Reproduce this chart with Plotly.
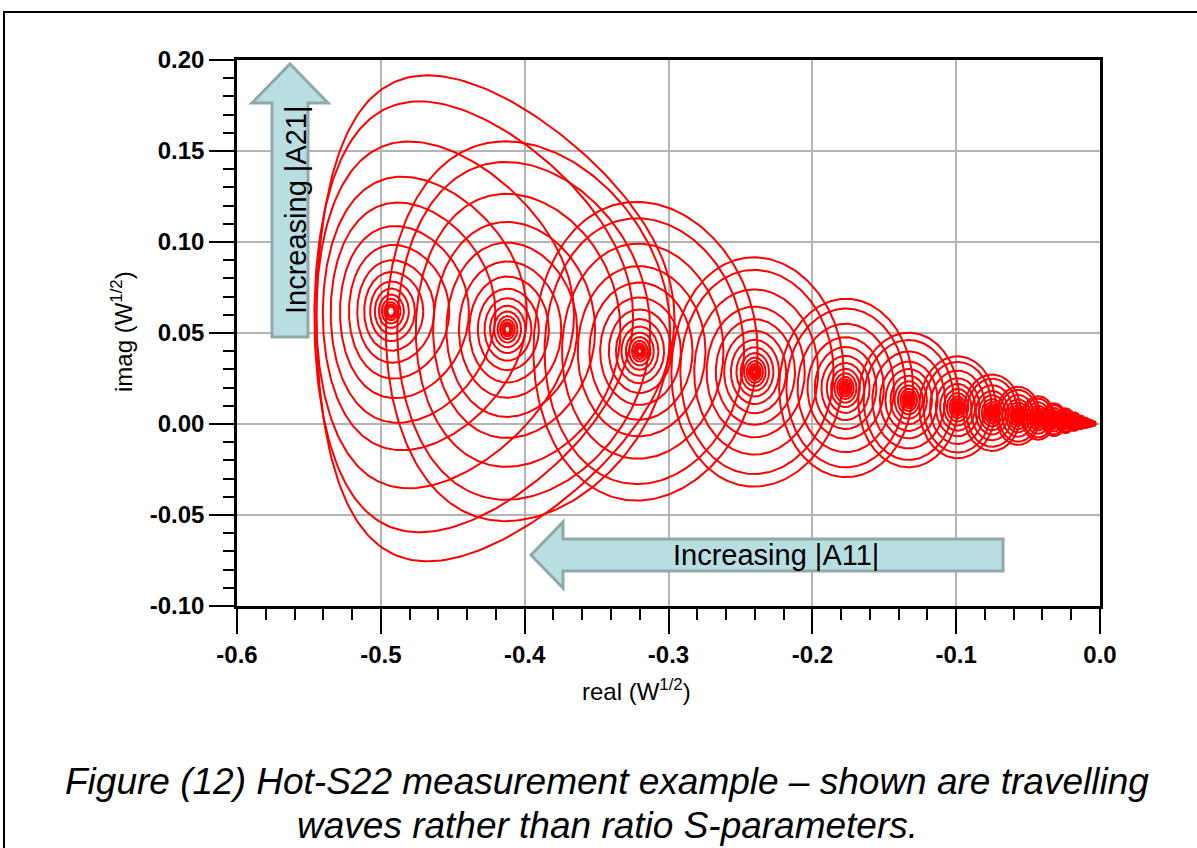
import numpy as np
import plotly.graph_objects as go

# ---- data (W^1/2) ----
# centre of each family of loops (one family per |A11| level)
center_real = [-0.493, -0.412, -0.320, -0.240, -0.177, -0.133, -0.099, -0.075,
               -0.057, -0.043, -0.032, -0.024, -0.018, -0.0135, -0.010, -0.0075,
               -0.0055, -0.0040]
center_imag = [0.062, 0.052, 0.040, 0.0286, 0.0198, 0.0132, 0.0092, 0.0062,
               0.0045, 0.0033, 0.0024, 0.0018, 0.0013, 0.0009, 0.0006, 0.0004,
               0.0003, 0.0002]
# radius of the largest loop in each family
outer_radius = [0.131, 0.104, 0.082, 0.063, 0.049, 0.037, 0.028, 0.021,
                0.016, 0.012, 0.009, 0.0068, 0.0051, 0.0038, 0.0029, 0.0022,
                0.0016, 0.0012]
# relative size of each loop in a family (one loop per |A21| level)
loop_scale = [1.0, 0.89, 0.72, 0.57, 0.46, 0.36, 0.28, 0.215, 0.165, 0.125,
              0.095, 0.07, 0.052, 0.038, 0.028, 0.02]
# compression distortion of the big loops (drift to the right, triangular skew)
drift = [0.46, 0.10, 0.03, 0.02, 0.01, 0.0, 0.0, 0.0, 0.0, 0.0, 0.0, 0.0,
         0.0, 0.0, 0.0, 0.0, 0.0, 0.0]
skew = [0.10, 0.04, 0.02, 0.01, 0.0, 0.0, 0.0, 0.0, 0.0, 0.0, 0.0, 0.0,
        0.0, 0.0, 0.0, 0.0, 0.0, 0.0]
drop = [0.03, 0.01, 0.0, 0.0, 0.0, 0.0, 0.0, 0.0, 0.0, 0.0, 0.0, 0.0,
        0.0, 0.0, 0.0, 0.0, 0.0, 0.0]
aspect = 0.95

x_tickvals = [-0.6, -0.5, -0.4, -0.3, -0.2, -0.1, 0.0]
x_ticktext = ["-0.6", "-0.5", "-0.4", "-0.3", "-0.2", "-0.1", "0.0"]
y_tickvals = [-0.10, -0.05, 0.00, 0.05, 0.10, 0.15, 0.20]
y_ticktext = ["-0.10", "-0.05", "0.00", "0.05", "0.10", "0.15", "0.20"]

fig = go.Figure()
t = np.linspace(0, 2 * np.pi, 241)
for g in range(len(center_real)):
    xs, ys = [], []
    for rel in loop_scale:
        r = outer_radius[g] * rel
        e = skew[g] * rel
        sx = drift[g] * outer_radius[g] * rel ** 2
        sy = -drop[g] * outer_radius[g] * rel ** 2
        x = center_real[g] + sx + aspect * r * (np.cos(t) + e * np.cos(2 * t))
        y = center_imag[g] + sy + r * (np.sin(t) - e * np.sin(2 * t))
        xs += list(x) + [None]
        ys += list(y) + [None]
    fig.add_trace(go.Scatter(x=xs, y=ys, mode="lines",
                             line=dict(color="#ff0000", width=2),
                             hoverinfo="skip", showlegend=False))

W, H = 1197, 848
L, R, T, B = 237, 1100, 60, 606


def px(x, y):
    return (x - L) / (R - L), (B - y) / (B - T)


def path(points):
    s = ""
    for i, (x, y) in enumerate(points):
        a, b = px(x, y)
        s += ("M" if i == 0 else "L") + f"{a:.5f},{b:.5f} "
    return s + "Z"


up_arrow = [(272, 337), (272, 103), (252, 103), (290, 64), (328, 103),
            (308, 103), (308, 337)]
left_arrow = [(1003, 539), (563, 539), (563, 522), (531, 555), (563, 588),
              (563, 571), (1003, 571)]

shapes = [
    dict(type="path", xref="paper", yref="paper", path=path(up_arrow),
         fillcolor="#b8dee2", line=dict(color="#8fa8aa", width=3), layer="above"),
    dict(type="path", xref="paper", yref="paper", path=path(left_arrow),
         fillcolor="#b8dee2", line=dict(color="#8fa8aa", width=3), layer="above"),
]
fx0, fy0 = px(4, 12)
fx1, fy1 = px(1400, 1000)
shapes.append(dict(type="rect", xref="paper", yref="paper", x0=fx0, y0=fy1,
                   x1=fx1, y1=fy0, line=dict(color="black", width=2),
                   fillcolor="rgba(0,0,0,0)", layer="above"))

font = "Liberation Sans, Arial, sans-serif"


def ann(text, x, y, size, angle=0, italic=False):
    a, b = px(x, y)
    return dict(text=text, x=a, y=b, xref="paper", yref="paper",
                showarrow=False, textangle=angle, xanchor="center",
                yanchor="middle",
                font=dict(family=font, size=size, color="black",
                          style="italic" if italic else "normal"))


annotations = [
    ann("Increasing |A21|", 296, 210, 29, angle=-90),
    ann("Increasing |A11|", 776, 555, 29),
    ann("imag (W<sup>1/2</sup>)", 122, 332, 24, angle=-90),
    ann("real (W<sup>1/2</sup>)", 636, 690, 24),
    ann("Figure (12) Hot-S22 measurement example \u2013 shown are travelling",
        607, 781, 37, italic=True),
    ann("waves rather than ratio S-parameters.", 607, 825, 37, italic=True),
]

axis_common = dict(showline=True, linecolor="black", linewidth=2.5, mirror=True,
                   ticks="outside", ticklen=25, tickwidth=2, tickcolor="black",
                   showgrid=True, gridcolor="#b4b4b4", gridwidth=1.6,
                   zeroline=False, automargin=False)

fig.update_layout(
    width=W, height=H,
    margin=dict(l=L, r=W - R, t=T, b=H - B, pad=0),
    paper_bgcolor="white", plot_bgcolor="white",
    xaxis=dict(range=[-0.6, 0.0], tickvals=x_tickvals, ticktext=x_ticktext,
               tickfont=dict(family=font, size=24, color="black", weight="bold"),
               minor=dict(dtick=0.02, tick0=0, ticks="outside", ticklen=11,
                          tickwidth=2, tickcolor="black", showgrid=False),
               **axis_common),
    yaxis=dict(range=[-0.1, 0.2], tickvals=y_tickvals, ticktext=y_ticktext,
               tickfont=dict(family=font, size=24, color="black", weight="bold"),
               minor=dict(dtick=0.01, tick0=0, ticks="outside", ticklen=11,
                          tickwidth=2, tickcolor="black", showgrid=False),
               **axis_common),
    shapes=shapes,
    annotations=annotations,
)

fig.write_html("out.html", config={"displayModeBar": False},
               post_script="document.body.style.margin='0px';")
